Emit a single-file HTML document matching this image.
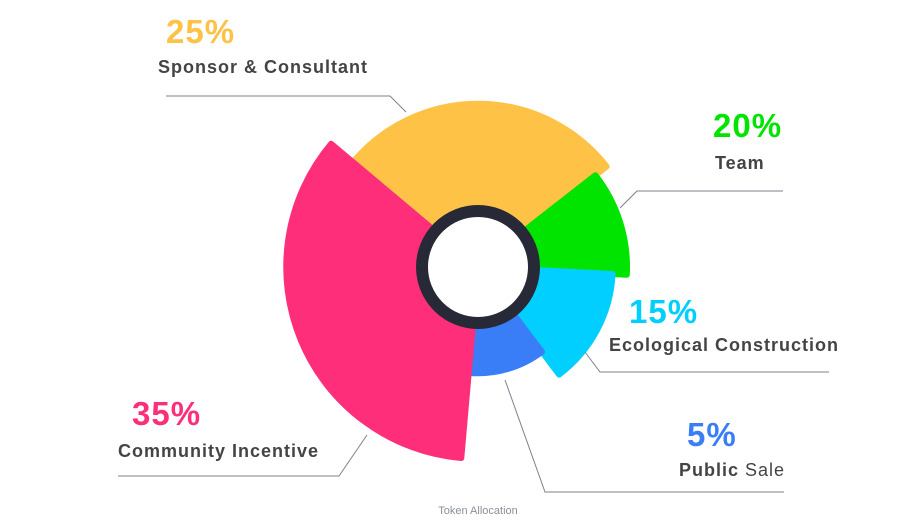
<!DOCTYPE html>
<html><head><meta charset="utf-8"><style>
html,body{margin:0;padding:0;background:#fff;}
svg{display:block;font-family:"Liberation Sans",Arial,sans-serif;}
</style></head><body>
<svg id="chart" width="903" height="523" viewBox="0 0 903 523">
<g id="slices"></g>
<g id="ring">
<circle cx="478" cy="267" r="56" fill="#fff" stroke="#272A36" stroke-width="12"/>
</g>
<g id="labels"></g>
<text x="478" y="514" text-anchor="middle" font-size="11" fill="#8a8f99">Token Allocation</text>
</svg>
<script>
const categories = ["Sponsor & Consultant","Team","Ecological Construction","Public Sale","Community Incentive"];
const values = [25,20,15,5,35];
const angleShares = [102,41,50,42,125];
const colors = ["#FEC247","#00E400","#00CFFF","#3A7EF7","#FF2E7A"];
const cx=478, cy=267, startAngle=310, innerR=56;
function rScale(v){ return 95 + 2.85*v; }
function angleScale(i){ let s=startAngle; for(let k=0;k<i;k++) s+=angleShares[k]; return s; }
function pt(a,r){ const t=a*Math.PI/180; return [cx+r*Math.sin(t), cy-r*Math.cos(t)]; }
const ns="http://www.w3.org/2000/svg";
const g=document.getElementById('slices');
for(let i=0;i<values.length;i++){
  const a0=angleScale(i), a1=a0+angleShares[i], r=rScale(values[i])-3;
  const p0=pt(a0,innerR), p1=pt(a0,r), p2=pt(a1,r), p3=pt(a1,innerR);
  const large=(a1-a0)>180?1:0;
  const d=`M${p0[0]},${p0[1]} L${p1[0]},${p1[1]} A${r},${r} 0 ${large} 1 ${p2[0]},${p2[1]} L${p3[0]},${p3[1]} Z`;
  const path=document.createElementNS(ns,'path');
  path.setAttribute('d',d);
  path.setAttribute('fill',colors[i]);
  path.setAttribute('stroke',colors[i]);
  path.setAttribute('stroke-width','6');
  path.setAttribute('stroke-linejoin','round');
  
  
  g.appendChild(path);
}
const labelLayout = [
  {px:166,py:43,tx:158,ty:73,line:"406,112 390,96 166,96"},
  {px:713,py:137,tx:715,ty:169,line:"620,208 637,191 783,191"},
  {px:629,py:323,tx:609,ty:351,line:"585,352 600,372 829,372"},
  {px:687,py:446,tx:679,ty:476,line:"505,380 545,492 784,492"},
  {px:132,py:425,tx:118,ty:457,line:"367,435 339,476 118,476"}
];
const lg=document.getElementById('labels');
for(let i=0;i<values.length;i++){
  const L=labelLayout[i];
  const pl=document.createElementNS(ns,'polyline');
  pl.setAttribute('points',L.line);
  pl.setAttribute('fill','none');
  pl.setAttribute('stroke','#7d8190');
  pl.setAttribute('stroke-width','1');
  
  
  lg.appendChild(pl);
  const t1=document.createElementNS(ns,'text');
  t1.setAttribute('x',L.px); t1.setAttribute('y',L.py);
  t1.setAttribute('font-size','33'); t1.setAttribute('font-weight','bold');
  t1.setAttribute('letter-spacing','1');
  t1.setAttribute('fill',colors[i]);
  t1.textContent=values[i]+'%';
  
  
  lg.appendChild(t1);
  const t2=document.createElementNS(ns,'text');
  t2.setAttribute('x',L.tx); t2.setAttribute('y',L.ty);
  t2.setAttribute('font-size','18'); t2.setAttribute('font-weight','bold');
  t2.setAttribute('letter-spacing','1');
  t2.setAttribute('fill','#444');
  if(categories[i]==="Public Sale"){
    const a=document.createElementNS(ns,'tspan'); a.textContent='Public ';
    const b=document.createElementNS(ns,'tspan'); b.textContent=' Sale'; b.setAttribute('font-weight','normal');
    t2.appendChild(a); t2.appendChild(b);
  } else t2.textContent=categories[i];
  
  
  lg.appendChild(t2);
}
</script>
</body></html>
